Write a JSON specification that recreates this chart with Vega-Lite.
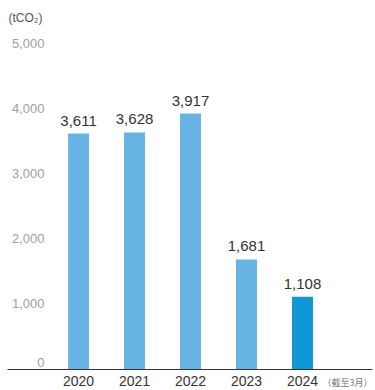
{
  "$schema": "https://vega.github.io/schema/vega-lite/v6.json",
  "autosize": "none",
  "width": 365,
  "height": 326,
  "padding": {"left": 7, "top": 43, "right": 3, "bottom": 21},
  "background": "white",
  "config": {
    "view": {"stroke": null},
    "font": "Liberation Sans"
  },
  "data": {
    "values": [
      {"year": "2020", "value": 3611},
      {"year": "2021", "value": 3628},
      {"year": "2022", "value": 3917},
      {"year": "2023", "value": 1681},
      {"year": "2024", "value": 1108}
    ]
  },
  "encoding": {
    "x": {
      "field": "year",
      "type": "nominal",
      "scale": {"paddingInner": 0, "paddingOuter": 0.76, "align": 0.512},
      "axis": {
        "title": "（截至3月）",
        "titleFont": "Noto Sans CJK SC",
        "titleFontSize": 9,
        "titleFontWeight": "normal",
        "titleColor": "#777777",
        "titleAnchor": "end",
        "titleAlign": "right",
        "titleBaseline": "middle",
        "titleY": 13,
        "labelAngle": 0,
        "labelFontSize": 14,
        "labelColor": "#333333",
        "labelPadding": 5,
        "ticks": false,
        "domainColor": "#333333",
        "domainWidth": 1
      }
    },
    "y": {
      "field": "value",
      "type": "quantitative",
      "scale": {"domain": [0, 5000], "nice": false},
      "axis": {
        "values": [0, 1000, 2000, 3000, 4000, 5000],
        "format": ",d",
        "grid": false,
        "domain": false,
        "ticks": false,
        "tickSize": 0,
        "labelAlign": "right",
        "labelPadding": -37,
        "labelFontSize": 13,
        "labelColor": "#a0a0a0",
        "labelBaseline": {"condition": {"test": "datum.value == 0", "value": "bottom"}, "value": "middle"},
        "title": "(tCO₂)",
        "titleAngle": 0,
        "titleAlign": "left",
        "titleBaseline": "middle",
        "titleX": 1,
        "titleY": -26,
        "titleFontSize": 12,
        "titleFontWeight": "normal",
        "titleColor": "#555555"
      }
    }
  },
  "layer": [
    {
      "mark": {"type": "bar", "width": 21},
      "encoding": {
        "color": {
          "condition": {"test": "datum.year == '2024'", "value": "#1097d6"},
          "value": "#67b4e4"
        }
      }
    },
    {
      "mark": {"type": "text", "baseline": "alphabetic", "dy": -8, "fontSize": 15, "color": "#333333"},
      "encoding": {
        "text": {"field": "value", "type": "quantitative", "format": ",d"}
      }
    }
  ]
}
